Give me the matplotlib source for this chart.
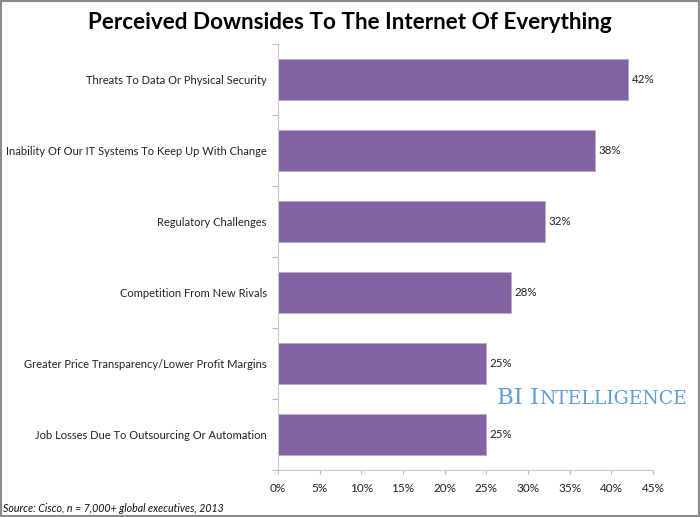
import matplotlib.pyplot as plt
from matplotlib.patches import Rectangle

categories = [
    'Threats To Data Or Physical Security',
    'Inability Of Our IT Systems To Keep Up With Change',
    'Regulatory Challenges',
    'Competition From New Rivals',
    'Greater Price Transparency/Lower Profit Margins',
    'Job Losses Due To Outsourcing Or Automation',
]
values = [42, 38, 32, 28, 25, 25]
xticks = [0, 5, 10, 15, 20, 25, 30, 35, 40, 45]

plt.rcParams['font.family'] = ['Lato', 'DejaVu Sans']

fig = plt.figure(figsize=(7, 5.17), dpi=100)
ax = fig.add_axes([0.397, 0.0909, 0.536, 0.824])

ypos = list(range(len(categories)))
ax.barh(ypos, values, height=0.59, color='#8064A2', edgecolor='#b9aacb', linewidth=0.6)
for y, v in zip(ypos, values):
    ax.text(v + 0.4, y, f'{v}%', va='center', ha='left', fontsize=8.3, color='#222222')

ax.set_ylim(len(categories) - 0.5, -0.5)
ax.set_xlim(0, 45)
ax.set_yticks(ypos)
ax.set_yticklabels(categories, fontsize=8.0, color='#222222')
ax.tick_params(axis='y', length=0, pad=8)
ax.set_yticks([i - 0.5 for i in range(len(categories) + 1)], minor=True)
ax.tick_params(axis='y', which='minor', length=4, color='#bbbbbb', width=0.8)

ax.set_xticks(xticks)
ax.set_xticklabels([f'{t}%' for t in xticks], fontsize=8.5, color='#222222')
ax.tick_params(axis='x', length=3, color='#bbbbbb', width=0.8, pad=6)

for side in ['top', 'right']:
    ax.spines[side].set_visible(False)
for side in ['left', 'bottom']:
    ax.spines[side].set_color('#c8c8c8')
    ax.spines[side].set_linewidth(0.8)

fig.text(0.5, 0.957, 'Perceived Downsides To The Internet Of Everything',
         ha='center', va='center', fontsize=16.2, fontweight='bold', color='#000000')
fig.text(0.004, 0.017, 'Source: Cisco, n = 7,000+ global executives, 2013',
         ha='left', va='center', fontsize=7.7, style='italic', color='#111111')

# BI Intelligence logo in small caps
logo_color = '#5e9fd8'
t1 = fig.text(497 / 700, 1 - 404 / 517, 'BI I', ha='left', va='baseline',
              fontsize=16.5, family='DejaVu Serif', color=logo_color)
fig.canvas.draw()
bb = t1.get_window_extent()
fig.text(bb.x1 / 700, 1 - 404 / 517, 'NTELLIGENCE', ha='left', va='baseline',
         fontsize=13.5, family='DejaVu Serif', color=logo_color)

fig.patches.append(Rectangle((0.001, 0.001), 0.998, 0.998, transform=fig.transFigure,
                             fill=False, edgecolor='#8a8a8a', linewidth=1.5))

fig.savefig('out.png', dpi=100)
